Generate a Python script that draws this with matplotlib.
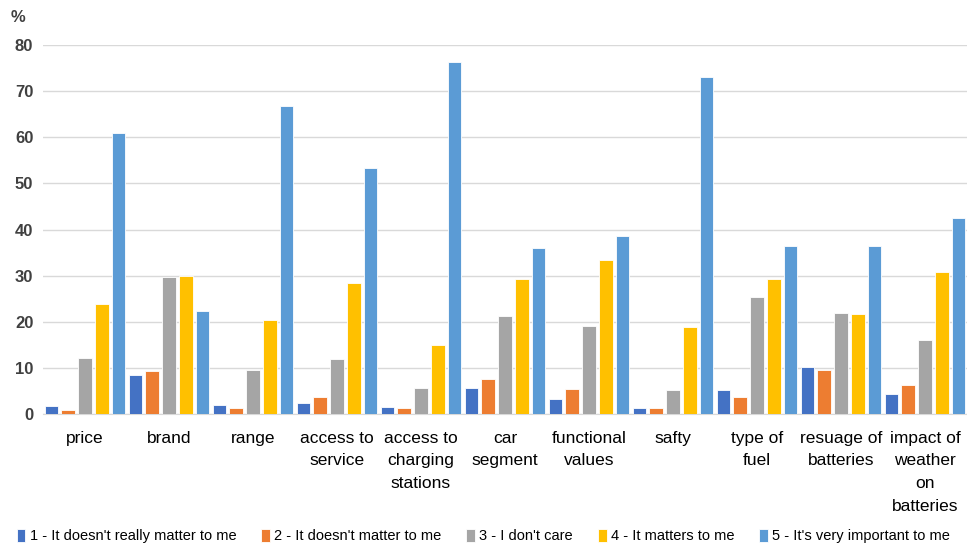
import matplotlib
matplotlib.use("Agg")
import matplotlib.pyplot as plt
import numpy as np

plt.rcParams['font.family'] = ['Liberation Sans Narrow', 'Liberation Sans', 'DejaVu Sans']

categories = ["price", "brand", "range", "access to\nservice", "access to\ncharging\nstations",
              "car\nsegment", "functional\nvalues", "safty", "type of\nfuel",
              "resuage of\nbatteries", "impact of\nweather\non\nbatteries"]

series_names = ["1 - It doesn't really matter to me", "2 - It doesn't matter to me",
                "3 - I don't care", "4 - It matters to me", "5 - It's very important to me"]

s1 = [1.7, 8.5, 1.9, 2.4, 1.5, 5.6, 3.3, 1.2, 5.2, 10.2, 4.4]
s2 = [0.9, 9.4, 1.2, 3.75, 1.3, 7.6, 5.4, 1.4, 3.75, 9.6, 6.2]
s3 = [12.1, 29.6, 9.5, 11.9, 5.6, 21.3, 19.1, 5.2, 25.4, 21.9, 16.1]
s4 = [23.9, 30.0, 20.4, 28.3, 14.9, 29.3, 33.4, 18.9, 29.2, 21.7, 30.8]
s5 = [60.9, 22.3, 66.8, 53.3, 76.3, 36.0, 38.6, 73.1, 36.4, 36.4, 42.4]

colors = ["#4472C4", "#ED7D31", "#A5A5A5", "#FFC000", "#5B9BD5"]

fig = plt.figure(figsize=(9.67, 5.44), dpi=100)
ax = fig.add_axes([43 / 967, 1 - 414 / 544, 924 / 967, (414 - 45) / 544])

x = np.arange(len(categories))
width = 0.16
handles = []
for j, vals in enumerate([s1, s2, s3, s4, s5]):
    b = ax.bar(x + (j - 2) * 0.2, vals, width, color=colors[j],
               edgecolor="white", linewidth=0.6, label=series_names[j], zorder=3)
    handles.append(b)

ax.set_xlim(-0.5, len(categories) - 0.5)
ax.set_ylim(0, 80)
ax.set_yticks(np.arange(0, 81, 10))
ax.yaxis.grid(True, color="#D9D9D9", linewidth=1.0, zorder=0)
ax.set_axisbelow(True)
for side in ["top", "right", "left"]:
    ax.spines[side].set_visible(False)
ax.spines["bottom"].set_color("#D9D9D9")
ax.tick_params(axis="y", length=0, pad=7, labelsize=12, labelcolor="#404040")
for lbl in ax.get_yticklabels():
    lbl.set_fontweight("bold")
ax.set_xticks(x)
ax.set_xticklabels(categories, fontsize=12.5, color="#000000", linespacing=1.65)
ax.tick_params(axis="x", length=0, pad=12)

fig.text(18 / 967, 1 - 17 / 544, "%", fontsize=12, fontweight="bold", color="#404040",
         ha="center", va="center")

fig.legend(handles=handles, labels=series_names, loc="center", ncol=5,
           bbox_to_anchor=(0.5, 1 - 536 / 544), frameon=False, fontsize=10.5,
           handlelength=0.6, handleheight=1.0, handletextpad=0.3, columnspacing=1.7)

fig.savefig("out.png", dpi=100)
